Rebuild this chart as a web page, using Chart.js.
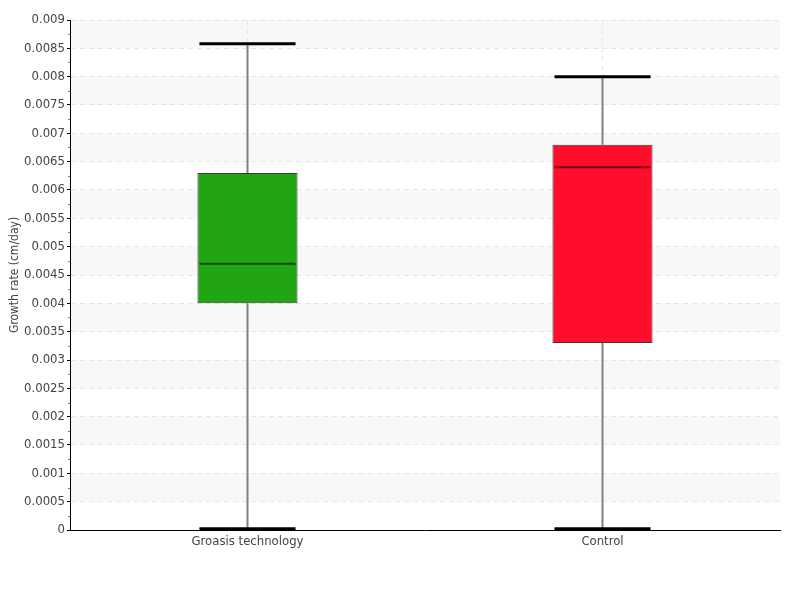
<!DOCTYPE html>
<html>
<head>
<meta charset="utf-8">
<script src="https://cdn.jsdelivr.net/npm/chart.js@4.4.0/dist/chart.umd.min.js"></script>
<style>
  html, body { margin: 0; padding: 0; background: #fff; }
  #wrap { width: 800px; height: 600px; }
</style>
</head>
<body>
<div id="wrap"><canvas id="chart"></canvas></div>
<script>
const categories = ['Groasis technology', 'Control'];
const minValues = [0.00002, 0.00002];
const q1Values = [0.0040, 0.0033];
const medianValues = [0.0047, 0.0064];
const q3Values = [0.0063, 0.0068];
const maxValues = [0.00858, 0.0080];
const boxColors = ['#22a512', '#ff0d2a'];

const FONT = '"Liberation Sans Narrow", "DejaVu Sans Condensed", "Roboto", sans-serif';

// alternating bands, whiskers, medians and minor ticks
const boxPlugin = {
  id: 'boxPlugin',
  beforeDraw(chart) {
    const { ctx, chartArea: a, scales: { y } } = chart;
    ctx.save();
    ctx.fillStyle = '#f8f8f8';
    for (let v = 0.0005; v < 0.009; v += 0.001) {
      const top = y.getPixelForValue(v + 0.0005);
      const bot = y.getPixelForValue(v);
      ctx.fillRect(a.left, top, a.right - a.left, bot - top);
    }
    ctx.restore();
  },
  beforeDatasetsDraw(chart) {
    const { ctx, scales: { y } } = chart;
    const meta = chart.getDatasetMeta(0);
    ctx.save();
    meta.data.forEach((bar, i) => {
      const x = bar.x;
      const half = bar.width / 2 - 2;
      ctx.strokeStyle = '#808080';
      ctx.lineWidth = 2;
      ctx.beginPath();
      ctx.moveTo(x, y.getPixelForValue(q3Values[i]));
      ctx.lineTo(x, y.getPixelForValue(maxValues[i]));
      ctx.moveTo(x, y.getPixelForValue(q1Values[i]));
      ctx.lineTo(x, y.getPixelForValue(minValues[i]));
      ctx.stroke();
      ctx.strokeStyle = '#000';
      ctx.lineWidth = 3;
      ctx.beginPath();
      [maxValues[i], minValues[i]].forEach(v => {
        const py = y.getPixelForValue(v);
        ctx.moveTo(x - half, py);
        ctx.lineTo(x + half, py);
      });
      ctx.stroke();
    });
    ctx.restore();
  },
  afterDatasetsDraw(chart) {
    const { ctx, scales: { y } } = chart;
    const meta = chart.getDatasetMeta(0);
    ctx.save();
    ctx.strokeStyle = 'rgba(0,0,0,0.55)';
    ctx.lineWidth = 2;
    meta.data.forEach((bar, i) => {
      const py = y.getPixelForValue(medianValues[i]);
      ctx.beginPath();
      ctx.moveTo(bar.x - bar.width / 2 + 2, py);
      ctx.lineTo(bar.x + bar.width / 2 - 2, py);
      ctx.stroke();
    });
    ctx.restore();
  },
  afterDraw(chart) {
    const { ctx, chartArea: a, scales: { y } } = chart;
    ctx.save();
    ctx.strokeStyle = '#ff4d4d';
    ctx.lineWidth = 1;
    ctx.beginPath();
    for (let v = 0.00025; v < 0.009; v += 0.0005) {
      const py = Math.round(y.getPixelForValue(v)) + 0.5;
      ctx.moveTo(a.left - 2, py);
      ctx.lineTo(a.left, py);
    }
    ctx.stroke();
    ctx.restore();
  }
};

new Chart(document.getElementById('chart'), {
  type: 'bar',
  data: {
    labels: categories,
    datasets: [{
      data: categories.map((c, i) => [q1Values[i], q3Values[i]]),
      backgroundColor: boxColors,
      borderColor: 'rgba(20,20,20,0.85)',
      borderWidth: 1,
      borderSkipped: false,
      barPercentage: 0.282,
      categoryPercentage: 1
    }]
  },
  options: {
    responsive: true,
    maintainAspectRatio: false,
    animation: false,
    layout: { padding: { top: 20, right: 20, left: 0, bottom: 0 } },
    plugins: {
      legend: { display: false },
      tooltip: { enabled: false }
    },
    scales: {
      x: {
        afterFit: s => { s.height = 70; },
        grid: { offset: false, drawTicks: false, color: '#e6e6e6' },
        border: { color: '#000', width: 1, dash: [5, 4] },
        ticks: { padding: 4, color: '#444', font: { family: FONT, size: 13 } }
      },
      y: {
        min: 0,
        max: 0.009,
        afterFit: s => { s.width = 70; },
        grid: { color: '#e6e6e6', tickColor: '#000', tickLength: 3, tickBorderDash: [] },
        border: { color: '#000', width: 1, dash: [5, 4] },
        ticks: {
          stepSize: 0.0005,
          padding: 2,
          color: '#444',
          font: { family: FONT, size: 13 },
          callback: v => String(Number(v.toFixed(5)))
        },
        title: {
          display: true,
          text: 'Growth rate (cm/day)',
          color: '#444',
          padding: { top: 8, bottom: 0 },
          font: { family: FONT, size: 12 }
        }
      }
    }
  },
  plugins: [boxPlugin]
});
</script>
</body>
</html>
